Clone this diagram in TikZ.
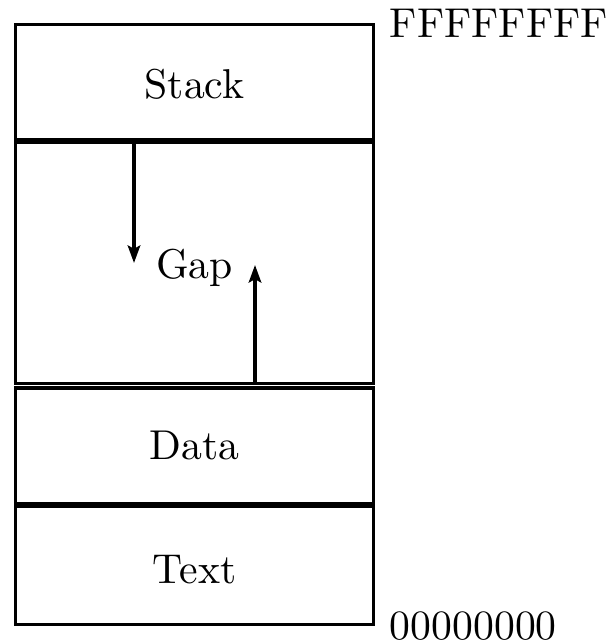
\documentclass[tikz,border=0pt]{standalone}
\usetikzlibrary{arrows.meta}
% lower a label inside its box without changing the box's dimensions
\newcommand{\lowered}[2]{\raisebox{-#1}[\height][\depth]{#2}}
\begin{document}
\begin{tikzpicture}[
    x=0.2398pt, y=-0.2398pt,
    region/.style={draw, line width=0.8pt, minimum width=85.85pt, inner sep=0pt},
    address/.style={anchor=west},
    growth/.style={line width=0.8pt, -{Stealth[length=4.2pt,width=3pt,inset=0.8pt]}}
  ]
  \useasboundingbox (0,0) rectangle (608,643);

  % memory regions, from high addresses to low
  \node[region, minimum height=27.7pt]  (stack) at (194.5,82.25)  {\lowered{0.5pt}{Stack}};
  \node[region, minimum height=57.9pt]  (gap)   at (194.5,262.75) {\lowered{1.2pt}{Gap}};
  \node[region, minimum height=27.7pt]  (data)  at (194.5,445.75) {Data};
  \node[region, minimum height=28.3pt]  (text)  at (194.5,565.5)  {\lowered{0.9pt}{Text}};

  % address labels
  \node[address] (high) at (stack.north east) {FFFFFFFF};
  \node[address] (low)  at (text.south east)  {00000000};

  % stack grows down, data grows up
  \coordinate (stackend) at (134,263);
  \coordinate (heapend)  at (255,265);
  \draw[growth] (gap.north -| stackend) -- (stackend);
  \draw[growth] (gap.south -| heapend) -- (heapend);
\end{tikzpicture}
\end{document}
